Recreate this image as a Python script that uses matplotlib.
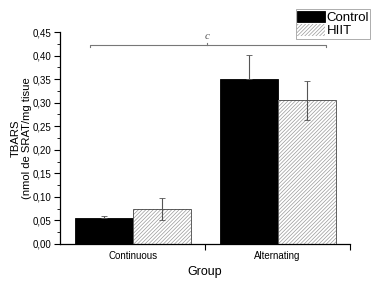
import matplotlib
matplotlib.use("Agg")
import matplotlib.pyplot as plt
from matplotlib.ticker import MultipleLocator, FuncFormatter

# data
groups = ["Continuous", "Alternating"]
control_means = [0.055, 0.351]
control_errs = [0.005, 0.051]
hiit_means = [0.074, 0.305]
hiit_errs = [0.023, 0.042]
series_names = ["Control", "HIIT"]

plt.rcParams["font.family"] = ["Liberation Sans", "DejaVu Sans"]
plt.rcParams["hatch.linewidth"] = 0.5

fig = plt.figure(figsize=(3.83, 2.84), dpi=100)
ax = fig.add_axes([0.157, 0.141, 0.757, 0.746])

x = [1, 2]
width = 0.4
x_ctrl = [p - width / 2 for p in x]
x_hiit = [p + width / 2 for p in x]

# control bars (solid black)
ax.bar(x_ctrl, control_means, width, color="black", edgecolor="black",
       linewidth=0.6, label=series_names[0], zorder=2)
# HIIT bars (gray hatch, then dark outline on top)
ax.bar(x_hiit, hiit_means, width, color="white", edgecolor="#999999",
       hatch="/////////", linewidth=0.0, label=series_names[1], zorder=2)
ax.bar(x_hiit, hiit_means, width, fill=False, edgecolor="#444444",
       linewidth=0.6, zorder=3)

# error bars
ax.errorbar(x_ctrl, control_means, yerr=[[0, 0], control_errs], fmt="none",
            ecolor="#555555", elinewidth=0.8, capsize=2, capthick=0.6, zorder=4)
ax.errorbar(x_hiit, hiit_means, yerr=hiit_errs, fmt="none",
            ecolor="#555555", elinewidth=0.8, capsize=2, capthick=0.6, zorder=4)

# significance bracket
br_y = 0.4225
br_x0, br_x1 = 0.707, 2.334
br_mid = 1.514
ax.plot([br_x0, br_x0, br_x1, br_x1], [br_y - 0.004, br_y, br_y, br_y - 0.004],
        color="#777777", linewidth=0.8, clip_on=False, zorder=5)
ax.plot([br_mid, br_mid], [br_y, br_y + 0.004], color="#777777",
        linewidth=0.8, clip_on=False, zorder=5)
ax.text(br_mid, br_y + 0.008, "c", ha="center", va="bottom", fontsize=8,
        family="Liberation Serif", style="italic", color="#555555")

# axes formatting
ax.set_xlim(0.5, 2.5)
ax.set_ylim(0, 0.45)
ax.set_xticks(x)
ax.set_xticklabels(groups, fontsize=7)
ax.tick_params(axis="x", which="major", length=0, pad=5)
ax.set_xticks([1.5, 2.5], minor=True)
ax.tick_params(axis="x", which="minor", length=4, width=0.8)

ax.yaxis.set_major_locator(MultipleLocator(0.05))
ax.yaxis.set_minor_locator(MultipleLocator(0.025))
ax.yaxis.set_major_formatter(FuncFormatter(lambda v, p: f"{v:.2f}".replace(".", ",")))
ax.tick_params(axis="y", which="major", length=4, width=0.8, labelsize=7, pad=2)
ax.tick_params(axis="y", which="minor", length=2, width=0.6)

for side in ["top", "right"]:
    ax.spines[side].set_visible(False)
for side in ["left", "bottom"]:
    ax.spines[side].set_linewidth(0.9)

ax.set_xlabel("Group", fontsize=9, labelpad=4)
ax.set_ylabel("TBARS\n(nmol de SRAT/mg tisue", fontsize=8.1, labelpad=0.5,
              linespacing=1.15)

leg = ax.legend(loc="upper left", bbox_to_anchor=(0.814, 1.108), fontsize=9.5,
                frameon=True, fancybox=False, edgecolor="#888888",
                borderpad=0.1, labelspacing=0.0, handlelength=2.05,
                handleheight=1.0, handletextpad=0.15, borderaxespad=0)
leg.get_frame().set_linewidth(0.6)

fig.savefig("out.png", dpi=100)
